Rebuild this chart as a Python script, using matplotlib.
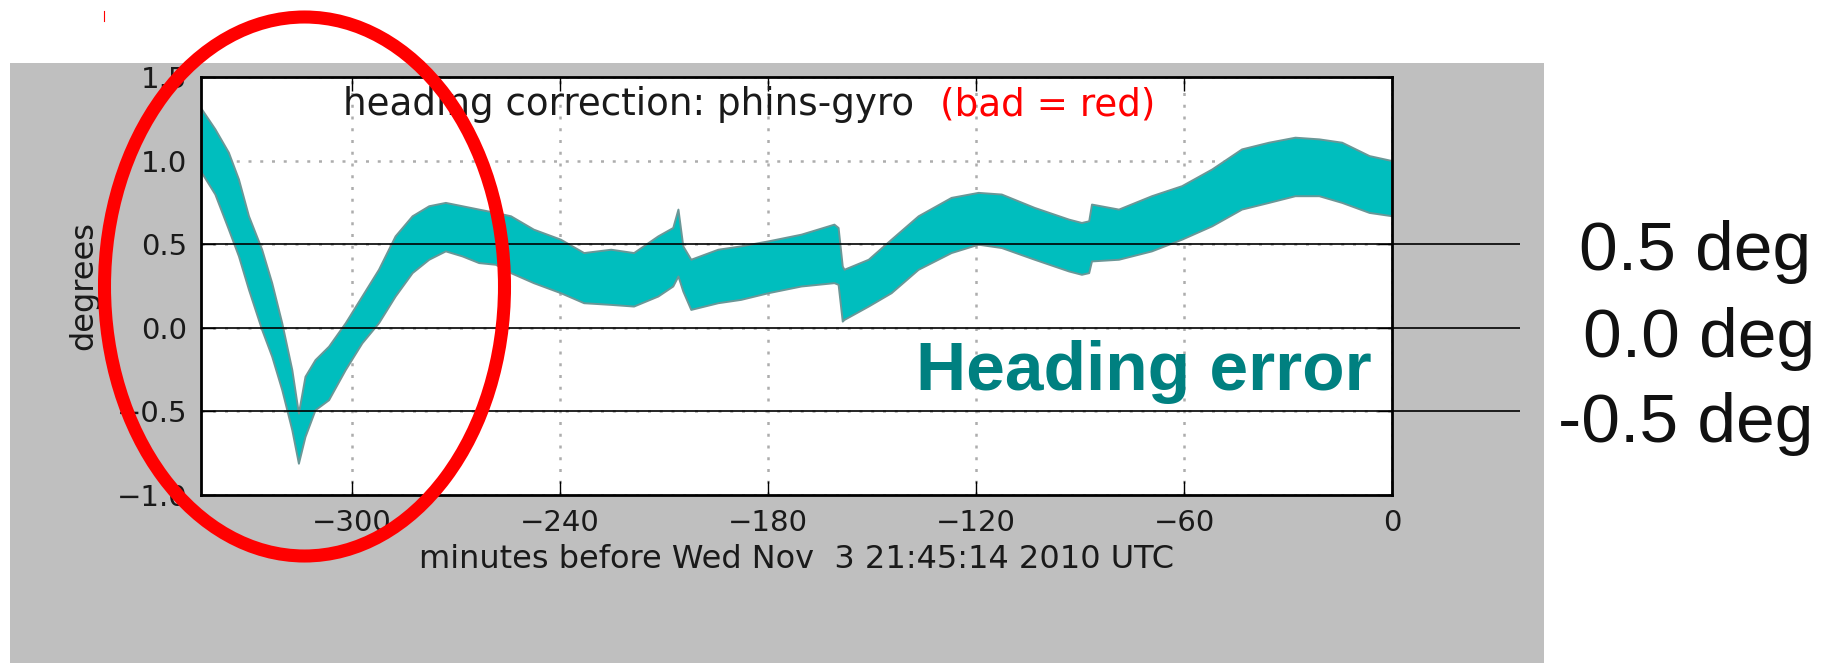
import numpy as np
import matplotlib
matplotlib.use('Agg')
import matplotlib.pyplot as plt
from matplotlib.patches import Rectangle, Ellipse
from matplotlib.lines import Line2D

# Heading correction (phins - gyro), upper and lower edge of the scatter band
minutes = [-343.5, -339.6, -335.7, -332.8, -329.9, -326.1, -323.2, -320.3, -317.4, -315.5,
           -313.6, -310.7, -306.8, -302.0, -297.2, -292.4, -287.6, -282.7, -277.9, -273.1,
           -268.3, -263.5, -258.7, -254.3, -247.7, -239.9, -233.2, -225.4, -218.8, -211.8,
           -207.5, -206.0, -204.6, -202.3, -194.5, -187.9, -180.0, -170.5, -161.0, -159.8,
           -158.6, -158.1, -151.1, -144.5, -136.7, -127.2, -119.4, -112.7, -103.2, -93.3,
           -89.6, -87.5, -86.7, -78.9, -69.4, -60.7, -52.0, -43.4, -35.6, -28.0,
           -21.1, -14.5, -6.6, 0.0]
upper = [1.31, 1.19, 1.05, 0.89, 0.67, 0.47, 0.27, 0.03, -0.25, -0.51,
         -0.29, -0.19, -0.11, 0.03, 0.19, 0.35, 0.55, 0.67, 0.73, 0.75,
         0.73, 0.71, 0.69, 0.67, 0.59, 0.53, 0.45, 0.47, 0.45, 0.55,
         0.60, 0.71, 0.49, 0.41, 0.47, 0.49, 0.52, 0.56, 0.62, 0.60,
         0.37, 0.35, 0.41, 0.53, 0.67, 0.78, 0.81, 0.80, 0.72, 0.65,
         0.63, 0.64, 0.74, 0.71, 0.79, 0.85, 0.95, 1.07, 1.11, 1.14,
         1.13, 1.11, 1.03, 1.00]
lower = [0.93, 0.80, 0.59, 0.43, 0.23, -0.01, -0.17, -0.37, -0.61, -0.81,
         -0.65, -0.49, -0.43, -0.25, -0.09, 0.03, 0.19, 0.33, 0.41, 0.46,
         0.43, 0.39, 0.38, 0.33, 0.27, 0.21, 0.15, 0.14, 0.13, 0.19,
         0.25, 0.31, 0.22, 0.11, 0.15, 0.17, 0.21, 0.25, 0.27, 0.26,
         0.04, 0.05, 0.13, 0.21, 0.35, 0.45, 0.50, 0.48, 0.41, 0.34,
         0.32, 0.33, 0.40, 0.41, 0.46, 0.53, 0.61, 0.71, 0.75, 0.79,
         0.79, 0.75, 0.69, 0.67]

xticks = [-300, -240, -180, -120, -60, 0]
yticks = [-1.0, -0.5, 0.0, 0.5, 1.0, 1.5]
niveles = [0.5, 0.0, -0.5]
etiquetas = ['0.5 deg', '0.0 deg', '-0.5 deg']

W, H = 1823, 663
fig = plt.figure(figsize=(W / 100, H / 100), dpi=100, facecolor='white')

# gray panel behind the plot
fig.add_artist(Rectangle((10 / W, 0), 1534 / W, 600 / H, transform=fig.transFigure,
                         facecolor='#bfbfbf', edgecolor='none', zorder=-1))

ax = fig.add_axes([201 / W, (H - 495) / H, 1191 / W, 418 / H])
ax.fill_between(minutes, lower, upper, facecolor='#00bebe', edgecolor='#6a9797', linewidth=1.4, zorder=2)

ax.set_xlim(-343.6, 0)
ax.set_ylim(-1.0, 1.5)
ax.set_xticks(xticks)
ax.set_yticks(yticks)
ax.grid(True, color='0.68', linestyle=(0, (1.2, 3.5)), linewidth=1.8)
ax.tick_params(direction='in', top=True, right=True, length=10, width=1, labelsize=21, pad=10,
               labelcolor='#1a1a1a')
for s in ax.spines.values():
    s.set_linewidth(2)

# reference lines, running past the right edge of the axes
ax.hlines(niveles, -343.6, 37, colors='black', linewidth=1.2, clip_on=False, zorder=3)

ax.text(0.1196, 0.909, 'heading correction: phins-gyro', transform=ax.transAxes,
        fontsize=26.8, va='baseline', color='#1a1a1a')
ax.text(0.6203, 0.909, '(bad = red)', transform=ax.transAxes,
        fontsize=26.8, va='baseline', color='red')

ax.set_xlabel('minutes before Wed Nov  3 21:45:14 2010 UTC', fontsize=23, color='#1a1a1a')
ax.xaxis.set_label_coords(0.5, -0.1165)
ax.set_ylabel('degrees', fontsize=23, color='#1a1a1a')
ax.yaxis.set_label_coords(-0.0856, 0.5)

fig.text(916 / W, (H - 390) / H, 'Heading error', fontsize=50, fontweight='bold',
         color='#008080', family='Liberation Sans', va='baseline')

pos = [(1579, 270), (1583, 357), (1558, 442)]
for (px, py), t in zip(pos, etiquetas):
    fig.text(px / W, (H - py) / H, t, fontsize=50, family='Liberation Sans',
             va='baseline', color='#111111')

# white strip above the panel
fig.add_artist(Rectangle((0, (H - 63) / H), 1, 63 / H, transform=fig.transFigure,
                         facecolor='white', edgecolor='none', zorder=5))

# red ellipse around the first dip
fig.add_artist(Ellipse((304.5 / W, (H - 286.5) / H), 400 / W, 539 / H, transform=fig.transFigure,
                       fill=False, edgecolor='red', linewidth=9.4, zorder=10))
fig.add_artist(Line2D([103.6 / W, 103.6 / W], [(H - 10.6) / H, (H - 21) / H],
                      transform=fig.transFigure, color='red', linewidth=0.8, zorder=11))

fig.savefig('out.png', dpi=100, facecolor='white')
